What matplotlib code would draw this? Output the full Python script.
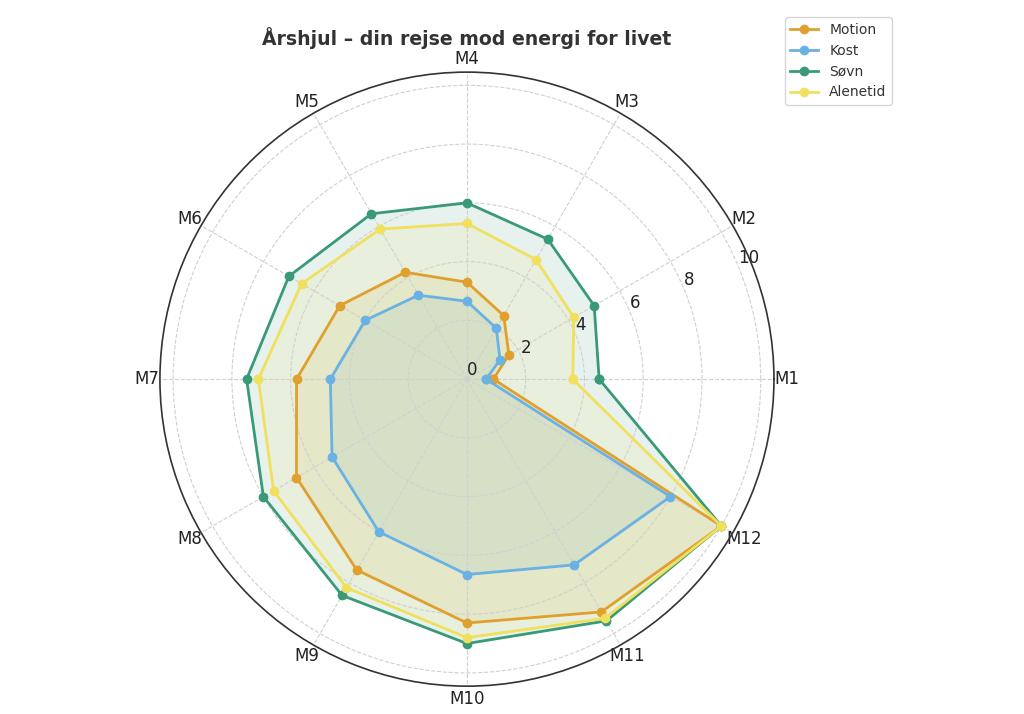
import numpy as np
import matplotlib.pyplot as plt

months = ['M1', 'M2', 'M3', 'M4', 'M5', 'M6', 'M7', 'M8', 'M9', 'M10', 'M11', 'M12']
motion = [0.9, 1.65, 2.5, 3.3, 4.2, 5.0, 5.8, 6.7, 7.5, 8.3, 9.15, 10.0]
kost = [0.65, 1.3, 2.0, 2.65, 3.3, 4.0, 4.65, 5.3, 6.0, 6.65, 7.3, 8.0]
soevn = [4.5, 5.0, 5.5, 6.0, 6.5, 7.0, 7.5, 8.0, 8.5, 9.0, 9.5, 10.0]
alenetid = [3.6, 4.2, 4.7, 5.3, 5.9, 6.5, 7.1, 7.6, 8.2, 8.8, 9.4, 10.0]

series = [('Motion', motion, '#E0A02E'),
          ('Kost', kost, '#6AB1E4'),
          ('Søvn', soevn, '#3A9A78'),
          ('Alenetid', alenetid, '#F0E05E')]

angles = np.linspace(0, 2 * np.pi, len(months), endpoint=False)
closed = np.append(angles, angles[0])

fig = plt.figure(figsize=(10.24, 7.14), dpi=100)
ax = fig.add_axes([0.156, 0.039, 0.6, 0.86], projection='polar')

for name, vals, col in series:
    v = np.append(vals, vals[0])
    ax.plot(closed, v, color=col, lw=2, marker='o', ms=6, label=name)
    ax.fill(closed, v, color=col, alpha=0.12)

ax.set_xticks(angles)
ax.set_xticklabels(months, fontsize=12, color='#222222')
ax.tick_params(axis='x', pad=-1)
ax.set_ylim(0, 10.45)
ax.set_yticks([0, 2, 4, 6, 8, 10])
ax.set_yticklabels(['0', '2', '4', '6', '8', '10'], fontsize=12, color='#222222')
ax.set_rlabel_position(22.5)
ax.grid(True, color='#d0d0d0', ls='--', lw=0.8)
ax.spines['polar'].set_color('#333333')
ax.spines['polar'].set_linewidth(1.2)

fig.text(0.456, 0.947, 'Årshjul – din rejse mod energi for livet', fontsize=13.6,
         fontweight='bold', color='#333333', ha='center', va='center')
leg = ax.legend(loc='upper left', bbox_to_anchor=(1.0065, 1.101), fontsize=10)
for t in leg.get_texts():
    t.set_color('#333333')

fig.savefig('out.png', dpi=100)
